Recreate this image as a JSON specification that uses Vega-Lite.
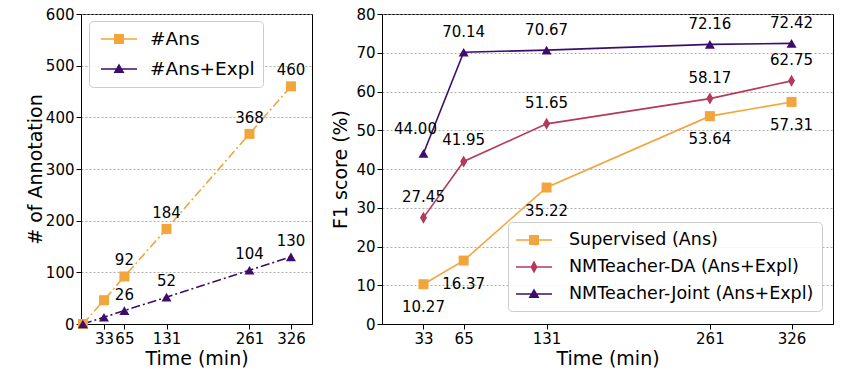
{
  "$schema": "https://vega.github.io/schema/vega-lite/v6.json",
  "padding": {"left": 25, "top": 6, "right": 5, "bottom": 5},
  "background": "white",
  "config": {
    "font": "DejaVu Sans",
    "view": {"stroke": "black", "strokeWidth": 1},
    "axis": {
      "labelFontSize": 15, "titleFontSize": 19, "titleFontWeight": "normal",
      "labelColor": "black", "titleColor": "black", "tickColor": "black", "domainColor": "black",
      "tickSize": 5, "labelPadding": 2, "labelOverlap": false, "labelFlush": false
    },
    "legend": {"labelFontSize": 17.5, "labelColor": "black", "labelLimit": 500}
  },
  "datasets": {
    "ann": [
      {"series": "#Ans", "time": 0, "count": 0},
      {"series": "#Ans", "time": 33, "count": 46},
      {"series": "#Ans", "time": 65, "count": 92},
      {"series": "#Ans", "time": 131, "count": 184},
      {"series": "#Ans", "time": 261, "count": 368},
      {"series": "#Ans", "time": 326, "count": 460},
      {"series": "#Ans+Expl", "time": 0, "count": 0},
      {"series": "#Ans+Expl", "time": 33, "count": 13},
      {"series": "#Ans+Expl", "time": 65, "count": 26},
      {"series": "#Ans+Expl", "time": 131, "count": 52},
      {"series": "#Ans+Expl", "time": 261, "count": 104},
      {"series": "#Ans+Expl", "time": 326, "count": 130}
    ],
    "f1": [
      {"series": "Supervised (Ans)", "time": 33, "f1": 10.27},
      {"series": "Supervised (Ans)", "time": 65, "f1": 16.37},
      {"series": "Supervised (Ans)", "time": 131, "f1": 35.22},
      {"series": "Supervised (Ans)", "time": 261, "f1": 53.64},
      {"series": "Supervised (Ans)", "time": 326, "f1": 57.31},
      {"series": "NMTeacher-DA (Ans+Expl)", "time": 33, "f1": 27.45},
      {"series": "NMTeacher-DA (Ans+Expl)", "time": 65, "f1": 41.95},
      {"series": "NMTeacher-DA (Ans+Expl)", "time": 131, "f1": 51.65},
      {"series": "NMTeacher-DA (Ans+Expl)", "time": 261, "f1": 58.17},
      {"series": "NMTeacher-DA (Ans+Expl)", "time": 326, "f1": 62.75},
      {"series": "NMTeacher-Joint (Ans+Expl)", "time": 33, "f1": 44.00},
      {"series": "NMTeacher-Joint (Ans+Expl)", "time": 65, "f1": 70.14},
      {"series": "NMTeacher-Joint (Ans+Expl)", "time": 131, "f1": 70.67},
      {"series": "NMTeacher-Joint (Ans+Expl)", "time": 261, "f1": 72.16},
      {"series": "NMTeacher-Joint (Ans+Expl)", "time": 326, "f1": 72.42}
    ]
  },
  "resolve": {"scale": {"color": "independent", "shape": "independent"}, "legend": {"color": "independent", "shape": "independent"}},
  "spacing": 18,
  "hconcat": [
    {
      "width": 231, "height": 310,
      "data": {"name": "ann"},
      "resolve": {"scale": {"color": "independent", "shape": "independent"}, "legend": {"color": "independent", "shape": "independent"}},
      "encoding": {
        "x": {"field": "time", "type": "quantitative", "scale": {"domain": [-3, 359], "nice": false, "zero": false},
              "axis": {"values": [33, 65, 131, 261, 326], "title": "Time (min)", "grid": false, "titlePadding": 3}},
        "y": {"field": "count", "type": "quantitative", "scale": {"domain": [0, 600], "nice": false},
              "axis": {"values": [0, 100, 200, 300, 400, 500, 600], "title": "# of Annotation", "grid": true,
                       "gridDash": [2, 2], "gridColor": "#999", "gridWidth": 0.8, "titlePadding": 0}}
      },
      "layer": [
        {
          "mark": {"type": "line", "strokeWidth": 1.6, "strokeDash": [9, 3, 2, 3]},
          "encoding": {
            "color": {"field": "series", "type": "nominal",
                      "scale": {"domain": ["#Ans", "#Ans+Expl"], "range": ["#F2A53A", "#3E0D6B"]}, "legend": null}
          }
        },
        {
          "mark": {"type": "point", "filled": true, "opacity": 0},
          "encoding": {
            "color": {"field": "series", "type": "nominal",
                      "scale": {"domain": ["#Ans", "#Ans+Expl"], "range": ["#F2A53A", "#3E0D6B"]},
                      "legend": {"title": null, "orient": "none", "legendX": 8, "legendY": 7,
                        "labelFontSize": 18.5, "symbolSize": 400, "symbolOffset": 12, "labelOffset": 21,
                        "rowPadding": 10, "padding": 8, "symbolOpacity": 1, "symbolStrokeWidth": 0,
                        "fillColor": "rgba(255,255,255,0.85)", "strokeColor": "#cccccc", "cornerRadius": 4}},
            "shape": {"field": "series", "type": "nominal",
                      "scale": {"domain": ["#Ans", "#Ans+Expl"],
                                "range": ["M-1.8,-0.08H1.8V0.08H-1.8ZM-0.5,-0.5H0.5V0.5H-0.5Z", "M-1.8,-0.08H1.8V0.08H-1.8ZM0,-0.55L0.55,0.4H-0.55Z"]},
                      "legend": {"title": null, "orient": "none", "legendX": 8, "legendY": 7,
                        "labelFontSize": 18.5, "symbolSize": 400, "symbolOffset": 12, "labelOffset": 21,
                        "rowPadding": 10, "padding": 8, "symbolOpacity": 1, "symbolStrokeWidth": 0,
                        "fillColor": "rgba(255,255,255,0.85)", "strokeColor": "#cccccc", "cornerRadius": 4}}
          }
        },
        {
          "mark": {"type": "point", "filled": true, "opacity": 1, "size": 100},
          "encoding": {
            "color": {"field": "series", "type": "nominal",
                      "scale": {"domain": ["#Ans", "#Ans+Expl"], "range": ["#F2A53A", "#3E0D6B"]}, "legend": null},
            "shape": {"field": "series", "type": "nominal",
                      "scale": {"domain": ["#Ans", "#Ans+Expl"], "range": ["square", "triangle-up"]}, "legend": null}
          }
        },
        {
          "transform": [{"filter": "datum.time >= 65"}],
          "mark": {"type": "text", "fontSize": 15, "dy": -16, "baseline": "middle"},
          "encoding": {"text": {"field": "count", "type": "quantitative", "format": "d"}, "color": {"value": "black"}}
        }
      ]
    },
    {
      "width": 451, "height": 310,
      "data": {"name": "f1"},
      "resolve": {"scale": {"color": "independent", "shape": "independent"}, "legend": {"color": "independent", "shape": "independent"}},
      "encoding": {
        "x": {"field": "time", "type": "quantitative", "scale": {"domain": [0, 359], "nice": false, "zero": false},
              "axis": {"values": [33, 65, 131, 261, 326], "title": "Time (min)", "grid": false, "titlePadding": 3}},
        "y": {"field": "f1", "type": "quantitative", "scale": {"domain": [0, 80], "nice": false},
              "axis": {"values": [0, 10, 20, 30, 40, 50, 60, 70, 80], "title": "F1 score (%)", "grid": true,
                       "gridDash": [2, 2], "gridColor": "#999", "gridWidth": 0.8, "titlePadding": 5}}
      },
      "layer": [
        {
          "mark": {"type": "line", "strokeWidth": 1.6},
          "encoding": {
            "color": {"field": "series", "type": "nominal",
                      "scale": {"domain": ["Supervised (Ans)", "NMTeacher-DA (Ans+Expl)", "NMTeacher-Joint (Ans+Expl)"],
                                "range": ["#F2A53A", "#B5395A", "#3E0D6B"]}, "legend": null}
          }
        },
        {
          "mark": {"type": "point", "filled": true, "opacity": 0},
          "encoding": {
            "color": {"field": "series", "type": "nominal",
                      "scale": {"domain": ["Supervised (Ans)", "NMTeacher-DA (Ans+Expl)", "NMTeacher-Joint (Ans+Expl)"],
                                "range": ["#F2A53A", "#B5395A", "#3E0D6B"]},
                      "legend": {"title": null, "orient": "none", "legendX": 126, "legendY": 208,
                        "labelFontSize": 17.5, "symbolSize": 400, "symbolOffset": 8, "labelOffset": 25,
                        "rowPadding": 8, "padding": 8, "symbolOpacity": 1, "symbolStrokeWidth": 0,
                        "fillColor": "rgba(255,255,255,0.85)", "strokeColor": "#cccccc", "cornerRadius": 4}},
            "shape": {"field": "series", "type": "nominal",
                      "scale": {"domain": ["Supervised (Ans)", "NMTeacher-DA (Ans+Expl)", "NMTeacher-Joint (Ans+Expl)"],
                                "range": ["M-1.8,-0.08H1.8V0.08H-1.8ZM-0.5,-0.5H0.5V0.5H-0.5Z",
                                          "M-1.8,-0.08H1.8V0.08H-1.8ZM0,-0.65L0.35,0L0,0.65L-0.35,0Z",
                                          "M-1.8,-0.08H1.8V0.08H-1.8ZM0,-0.55L0.55,0.4H-0.55Z"]},
                      "legend": {"title": null, "orient": "none", "legendX": 126, "legendY": 208,
                        "labelFontSize": 17.5, "symbolSize": 400, "symbolOffset": 8, "labelOffset": 25,
                        "rowPadding": 8, "padding": 8, "symbolOpacity": 1, "symbolStrokeWidth": 0,
                        "fillColor": "rgba(255,255,255,0.85)", "strokeColor": "#cccccc", "cornerRadius": 4}}
          }
        },
        {
          "mark": {"type": "point", "filled": true, "opacity": 1, "size": 100},
          "encoding": {
            "color": {"field": "series", "type": "nominal",
                      "scale": {"domain": ["Supervised (Ans)", "NMTeacher-DA (Ans+Expl)", "NMTeacher-Joint (Ans+Expl)"],
                                "range": ["#F2A53A", "#B5395A", "#3E0D6B"]}, "legend": null},
            "shape": {"field": "series", "type": "nominal",
                      "scale": {"domain": ["Supervised (Ans)", "NMTeacher-DA (Ans+Expl)", "NMTeacher-Joint (Ans+Expl)"],
                                "range": ["square", "M0,-1.2L0.7,0L0,1.2L-0.7,0Z", "triangle-up"]}, "legend": null}
          }
        },
        {
          "transform": [{"filter": "datum.series === 'Supervised (Ans)'"}],
          "mark": {"type": "text", "fontSize": 15, "dy": 23, "baseline": "middle"},
          "encoding": {"text": {"field": "f1", "type": "quantitative", "format": ".2f"}, "color": {"value": "black"}}
        },
        {
          "transform": [{"filter": "datum.series === 'NMTeacher-DA (Ans+Expl)'"}],
          "mark": {"type": "text", "fontSize": 15, "dy": -21, "baseline": "middle"},
          "encoding": {"text": {"field": "f1", "type": "quantitative", "format": ".2f"}, "color": {"value": "black"}}
        },
        {
          "transform": [{"filter": "datum.series === 'NMTeacher-Joint (Ans+Expl)' && datum.time > 33"}],
          "mark": {"type": "text", "fontSize": 15, "dy": -20, "baseline": "middle"},
          "encoding": {"text": {"field": "f1", "type": "quantitative", "format": ".2f"}, "color": {"value": "black"}}
        },
        {
          "transform": [{"filter": "datum.series === 'NMTeacher-Joint (Ans+Expl)' && datum.time === 33"}],
          "mark": {"type": "text", "fontSize": 15, "dy": -25, "dx": -8, "baseline": "middle"},
          "encoding": {"text": {"field": "f1", "type": "quantitative", "format": ".2f"}, "color": {"value": "black"}}
        }
      ]
    }
  ]
}
